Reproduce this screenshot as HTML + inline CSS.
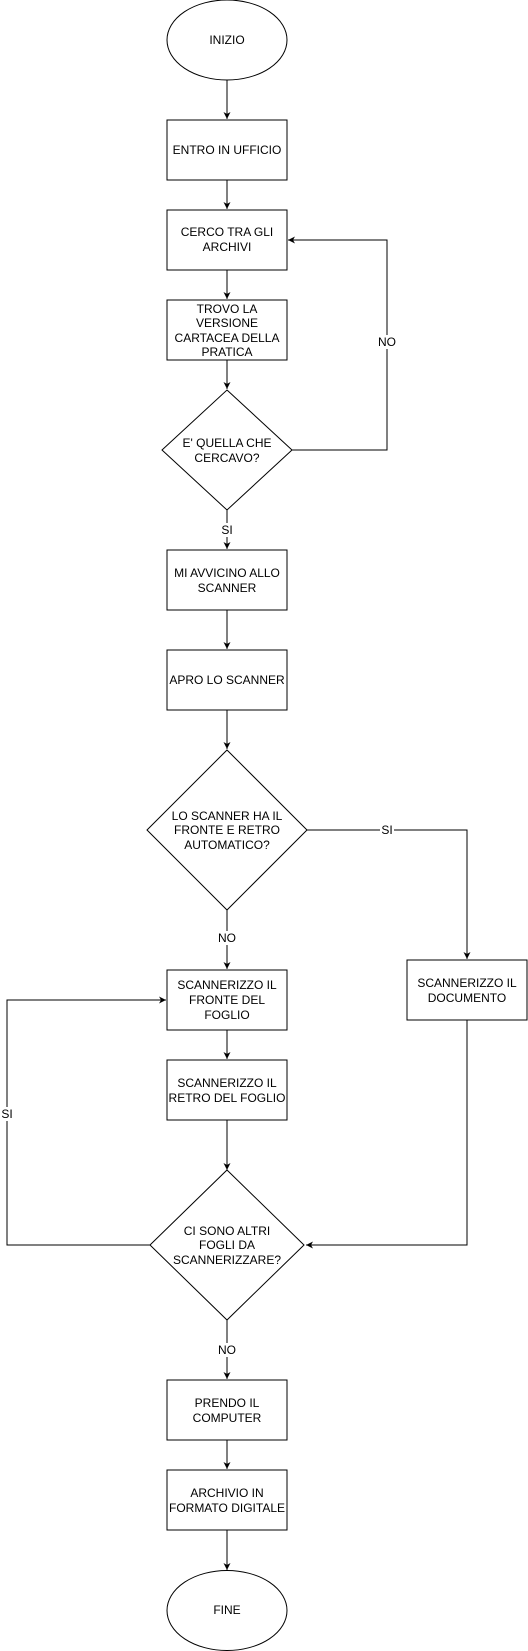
<!DOCTYPE html>
<html><head><meta charset="utf-8"><style>
html,body{margin:0;padding:0;background:#fff;}
svg{display:block;}
text{font-family:"Liberation Sans",Arial,sans-serif;font-size:12px;fill:#000;text-anchor:middle;dominant-baseline:central;}
.s{fill:#fff;stroke:#000;stroke-width:1;}
.l{fill:none;stroke:#000;stroke-width:1;}
.lb{fill:#fff;}
</style></head><body>
<svg width="528" height="1651" viewBox="0 0 528 1651" xmlns="http://www.w3.org/2000/svg">
<defs><marker id="a" markerWidth="8" markerHeight="8" refX="7" refY="4" orient="auto" markerUnits="userSpaceOnUse"><path d="M0,0.5 L7,4 L0,7.5 L2,4 Z" fill="#000"/></marker></defs>

<!-- connectors -->
<path class="l" d="M227,80 V119" marker-end="url(#a)"/>
<path class="l" d="M227,180 V209" marker-end="url(#a)"/>
<path class="l" d="M227,270 V299" marker-end="url(#a)"/>
<path class="l" d="M227,360 V389" marker-end="url(#a)"/>
<path class="l" d="M292,450 H387 V240 H288" marker-end="url(#a)"/>
<path class="l" d="M227,510 V549" marker-end="url(#a)"/>
<path class="l" d="M227,610 V649" marker-end="url(#a)"/>
<path class="l" d="M227,710 V749" marker-end="url(#a)"/>
<path class="l" d="M307,830 H467 V959" marker-end="url(#a)"/>
<path class="l" d="M227,910 V969" marker-end="url(#a)"/>
<path class="l" d="M227,1030 V1059" marker-end="url(#a)"/>
<path class="l" d="M227,1120 V1170" marker-end="url(#a)"/>
<path class="l" d="M467,1020 V1245 H306" marker-end="url(#a)"/>
<path class="l" d="M150,1245 H7 V1000 H166" marker-end="url(#a)"/>
<path class="l" d="M227,1320 V1379" marker-end="url(#a)"/>
<path class="l" d="M227,1440 V1469" marker-end="url(#a)"/>
<path class="l" d="M227,1530 V1570" marker-end="url(#a)"/>

<!-- labels on connectors -->
<rect class="lb" x="376" y="335" width="22" height="14"/><text x="387" y="342">NO</text>
<rect class="lb" x="220" y="523" width="14" height="14"/><text x="227" y="530">SI</text>
<rect class="lb" x="380" y="823" width="14" height="14"/><text x="387" y="830">SI</text>
<rect class="lb" x="216" y="931" width="22" height="14"/><text x="227" y="938">NO</text>
<rect class="lb" x="0" y="1107" width="14" height="14"/><text x="7" y="1114">SI</text>
<rect class="lb" x="216" y="1343" width="22" height="14"/><text x="227" y="1350">NO</text>

<!-- shapes -->
<ellipse class="s" cx="227" cy="40" rx="60" ry="40"/><text x="227" y="40">INIZIO</text>
<rect class="s" x="167" y="120" width="120" height="60"/><text x="227" y="150">ENTRO IN UFFICIO</text>
<rect class="s" x="167" y="210" width="120" height="60"/><text x="227" y="232">CERCO TRA GLI</text><text x="227" y="247">ARCHIVI</text>
<rect class="s" x="167" y="300" width="120" height="60"/><text x="227" y="309">TROVO LA</text><text x="227" y="323">VERSIONE</text><text x="227" y="338">CARTACEA DELLA</text><text x="227" y="352">PRATICA</text>
<polygon class="s" points="227,390 292,450 227,510 162,450"/><text x="227" y="443">E' QUELLA CHE</text><text x="227" y="458">CERCAVO?</text>
<rect class="s" x="167" y="550" width="120" height="60"/><text x="227" y="573">MI AVVICINO ALLO</text><text x="227" y="588">SCANNER</text>
<rect class="s" x="167" y="650" width="120" height="60"/><text x="227" y="680">APRO LO SCANNER</text>
<polygon class="s" points="227,750 307,830 227,910 147,830"/><text x="227" y="816">LO SCANNER HA IL</text><text x="227" y="830">FRONTE E RETRO</text><text x="227" y="845">AUTOMATICO?</text>
<rect class="s" x="407" y="960" width="120" height="60"/><text x="467" y="983">SCANNERIZZO IL</text><text x="467" y="998">DOCUMENTO</text>
<rect class="s" x="167" y="970" width="120" height="60"/><text x="227" y="985">SCANNERIZZO IL</text><text x="227" y="1000">FRONTE DEL</text><text x="227" y="1015">FOGLIO</text>
<rect class="s" x="167" y="1060" width="120" height="60"/><text x="227" y="1083">SCANNERIZZO IL</text><text x="227" y="1098">RETRO DEL FOGLIO</text>
<polygon class="s" points="227,1170 304,1245 227,1320 150,1245"/><text x="227" y="1231">CI SONO ALTRI</text><text x="227" y="1245">FOGLI DA</text><text x="227" y="1260">SCANNERIZZARE?</text>
<rect class="s" x="167" y="1380" width="120" height="60"/><text x="227" y="1403">PRENDO IL</text><text x="227" y="1418">COMPUTER</text>
<rect class="s" x="167" y="1470" width="120" height="60"/><text x="227" y="1493">ARCHIVIO IN</text><text x="227" y="1508">FORMATO DIGITALE</text>
<ellipse class="s" cx="227" cy="1610.5" rx="60" ry="40"/><text x="227" y="1610">FINE</text>
</svg>
</body></html>
